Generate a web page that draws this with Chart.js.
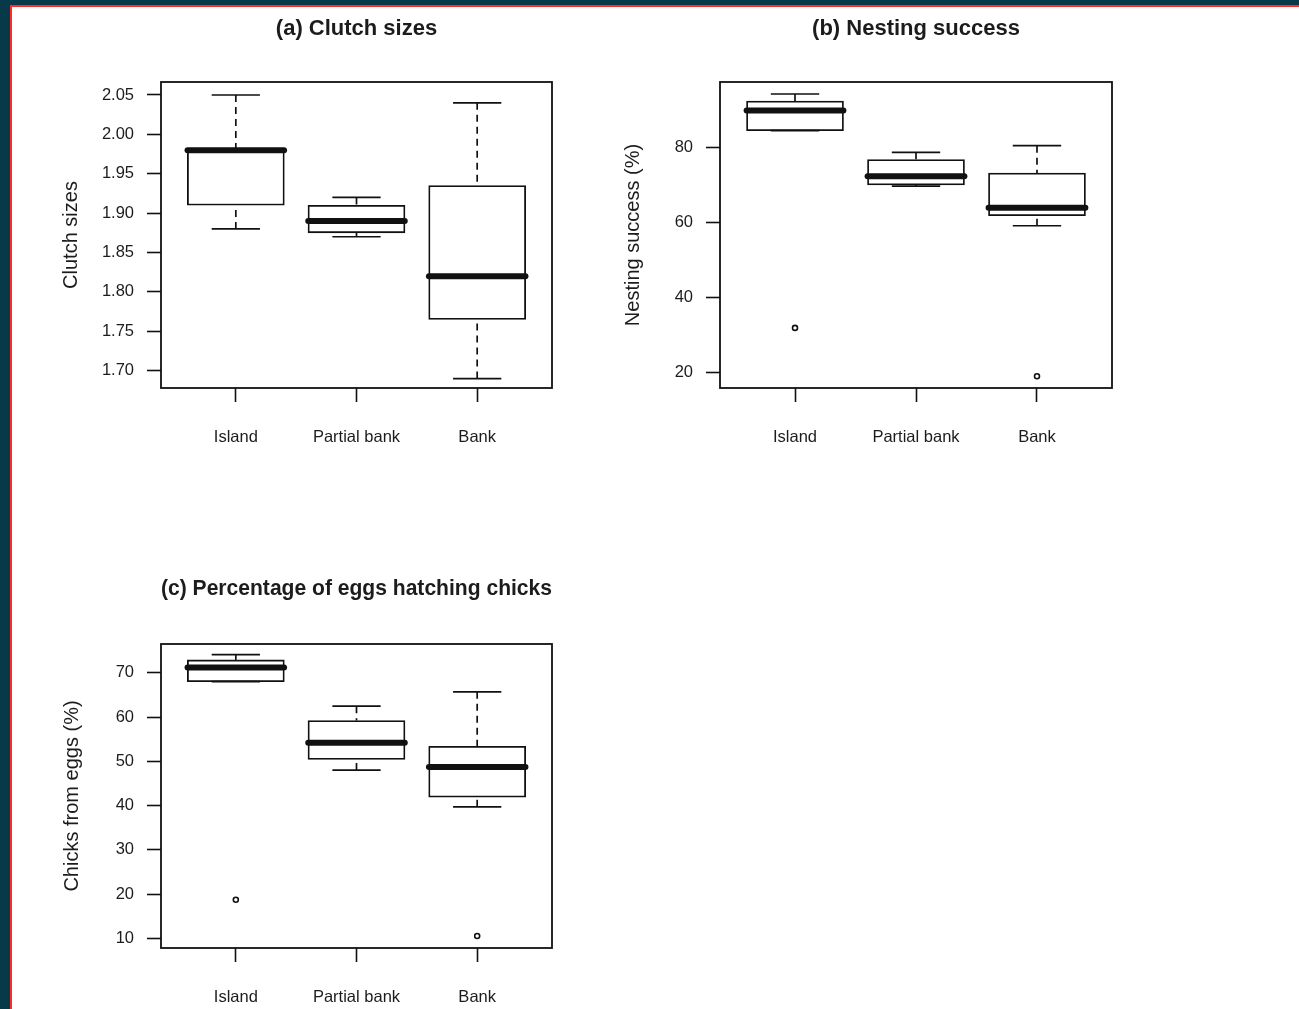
<!DOCTYPE html>
<html>
<head>
<meta charset="utf-8">
<script src="https://cdn.jsdelivr.net/npm/chart.js@4.4.1/dist/chart.umd.min.js"></script>
<style>
  html, body { margin: 0; padding: 0; }
  body { width: 1299px; height: 1009px; background: #063a48; position: relative; overflow: hidden; }
  #paper { position: absolute; left: 10px; top: 5px; right: 0; bottom: 0; background: #fff;
           border-left: 2px solid #ff2b2b; border-top: 2px solid #ff2b2b; }
  canvas { position: absolute; }
</style>
</head>
<body>
<div id="paper"></div>
<canvas id="clutch" width="580" height="470" style="left:20px;top:0px"></canvas>
<canvas id="nesting" width="580" height="470" style="left:580px;top:0px"></canvas>
<canvas id="chicks" width="580" height="449" style="left:20px;top:560px"></canvas>
<script>
// groups on the x axis
const categories = ['Island', 'Partial bank', 'Bank'];

// (a) clutch sizes
const clutchLow = [1.88, 1.87, 1.69];
const clutchQ1 = [1.91, 1.875, 1.765];
const clutchMed = [1.98, 1.89, 1.82];
const clutchQ3 = [1.98, 1.91, 1.935];
const clutchHigh = [2.05, 1.92, 2.04];
const clutchOut = [];
const clutchTicks = [1.70, 1.75, 1.80, 1.85, 1.90, 1.95, 2.00, 2.05];

// (b) nesting success (%)
const nestLow = [84.5, 69.7, 59.1];
const nestQ1 = [84.5, 70.0, 61.8];
const nestMed = [89.9, 72.3, 63.9];
const nestQ3 = [92.4, 76.8, 73.2];
const nestHigh = [94.3, 78.7, 80.5];
const nestOut = [[1, 31.8], [3, 18.9]];
const nestTicks = [20, 40, 60, 80];

// (c) chicks from eggs (%)
const chickLow = [68.0, 48.0, 39.7];
const chickQ1 = [68.0, 50.4, 41.9];
const chickMed = [71.2, 54.2, 48.7];
const chickQ3 = [72.9, 59.2, 53.4];
const chickHigh = [74.1, 62.45, 65.7];
const chickOut = [[1, 18.7], [3, 10.5]];
const chickTicks = [10, 20, 30, 40, 50, 60, 70];

const INK = '#111';
const TEXT = '#1c1c1c';
Chart.defaults.font.family = "'Liberation Sans', Arial, sans-serif";

// whiskers, caps, medians and the frame, R style
const rBox = {
  id: 'rbox',
  afterDatasetsDraw(chart, args, opts) {
    const ctx = chart.ctx, x = chart.scales.x, y = chart.scales.y;
    ctx.save();
    ctx.strokeStyle = INK;
    for (let i = 0; i < opts.med.length; i++) {
      const cx = x.getPixelForValue(i + 1);
      const c0 = x.getPixelForValue(i + 1 - 0.2), c1 = x.getPixelForValue(i + 1 + 0.2);
      ctx.lineWidth = 1.7;
      ctx.setLineDash([7, 5]);
      ctx.beginPath();
      ctx.moveTo(cx, y.getPixelForValue(opts.high[i])); ctx.lineTo(cx, y.getPixelForValue(opts.q3[i]));
      ctx.moveTo(cx, y.getPixelForValue(opts.low[i])); ctx.lineTo(cx, y.getPixelForValue(opts.q1[i]));
      ctx.stroke();
      ctx.setLineDash([]);
      ctx.beginPath();
      ctx.moveTo(c0, y.getPixelForValue(opts.high[i])); ctx.lineTo(c1, y.getPixelForValue(opts.high[i]));
      ctx.moveTo(c0, y.getPixelForValue(opts.low[i])); ctx.lineTo(c1, y.getPixelForValue(opts.low[i]));
      ctx.stroke();
      // median
      const m = y.getPixelForValue(opts.med[i]);
      ctx.lineWidth = 6;
      ctx.lineCap = 'round';
      ctx.beginPath();
      ctx.moveTo(x.getPixelForValue(i + 1 - 0.4), m);
      ctx.lineTo(x.getPixelForValue(i + 1 + 0.4), m);
      ctx.stroke();
      ctx.lineCap = 'butt';
    }
    ctx.restore();
  },
  afterDraw(chart) {
    const a = chart.chartArea, ctx = chart.ctx;
    ctx.save();
    ctx.strokeStyle = INK;
    ctx.lineWidth = 1.8;
    ctx.strokeRect(a.left, a.top, a.right - a.left, a.bottom - a.top);
    ctx.restore();
  }
};

function boxChart(id, p) {
  const boxes = categories.map((c, i) => ({ x: i + 1, y: [p.q1[i], p.q3[i]] }));
  const outs = p.out.map(o => ({ x: o[0], y: o[1] }));
  return new Chart(document.getElementById(id), {
    type: 'bar',
    data: {
      datasets: [
        { type: 'bar', data: boxes, backgroundColor: '#fff', borderColor: INK, borderWidth: 1.8,
          borderSkipped: false, barThickness: 97 },
        { type: 'scatter', data: outs, pointRadius: 2.5, pointBackgroundColor: '#fff',
          pointBorderColor: INK, pointBorderWidth: 1.6 }
      ]
    },
    options: {
      responsive: false,
      animation: false,
      devicePixelRatio: 1,
      layout: { padding: { left: 0, right: 48, top: 0, bottom: 0 } },
      plugins: {
        legend: { display: false },
        tooltip: { enabled: false },
        title: {
          display: true, text: p.title, fullSize: false, color: TEXT,
          font: { size: 22, weight: 'bold', lineHeight: '24px' },
          padding: { top: 17, bottom: p.titleGap }
        },
        rbox: p
      },
      scales: {
        x: {
          type: 'linear', min: 0.38, max: 3.62, offset: false,
          afterBuildTicks: s => { s.ticks = categories.map((c, i) => ({ value: i + 1 })); },
          afterFit: s => { s.height = p.xHeight; },
          ticks: { callback: v => categories[v - 1], color: TEXT, font: { size: 16.5 }, padding: 26, maxRotation: 0 },
          grid: { drawOnChartArea: false, offset: false, tickLength: 14, tickColor: INK, tickWidth: 1.6 },
          border: { display: false }
        },
        y: {
          type: 'linear', min: p.yMin, max: p.yMax, beginAtZero: false,
          afterBuildTicks: s => { s.ticks = p.ticks.map(v => ({ value: v })); },
          afterFit: s => { s.width = p.yWidth; },
          ticks: { callback: v => v.toFixed(p.dec), color: TEXT, font: { size: 16.5 }, padding: 13 },
          grid: { drawOnChartArea: false, tickLength: 14, tickColor: INK, tickWidth: 1.6 },
          border: { display: false },
          title: { display: true, text: p.yTitle, color: TEXT, font: { size: 20, lineHeight: '24px' }, padding: { top: p.yTitlePad, bottom: 0 } }
        }
      }
    },
    plugins: [rBox]
  });
}

boxChart('clutch', {
  title: '(a) Clutch sizes', yTitle: 'Clutch sizes',
  low: clutchLow, q1: clutchQ1, med: clutchMed, q3: clutchQ3, high: clutchHigh, out: clutchOut,
  ticks: clutchTicks, dec: 2, yMin: 1.678, yMax: 2.0665,
  yWidth: 141, xHeight: 82, titleGap: 41, yTitlePad: 39
});

boxChart('nesting', {
  title: '(b) Nesting success', yTitle: 'Nesting success (%)',
  low: nestLow, q1: nestQ1, med: nestMed, q3: nestQ3, high: nestHigh, out: nestOut,
  ticks: nestTicks, dec: 0, yMin: 15.75, yMax: 97.5,
  yWidth: 140, xHeight: 82, titleGap: 41, yTitlePad: 41
});

boxChart('chicks', {
  title: '(c) Percentage of eggs hatching chicks', yTitle: 'Chicks from eggs (%)',
  low: chickLow, q1: chickQ1, med: chickMed, q3: chickQ3, high: chickHigh, out: chickOut,
  ticks: chickTicks, dec: 0, yMin: 7.8, yMax: 76.5,
  yWidth: 141, xHeight: 61, titleGap: 43, yTitlePad: 40
});
</script>
</body>
</html>
